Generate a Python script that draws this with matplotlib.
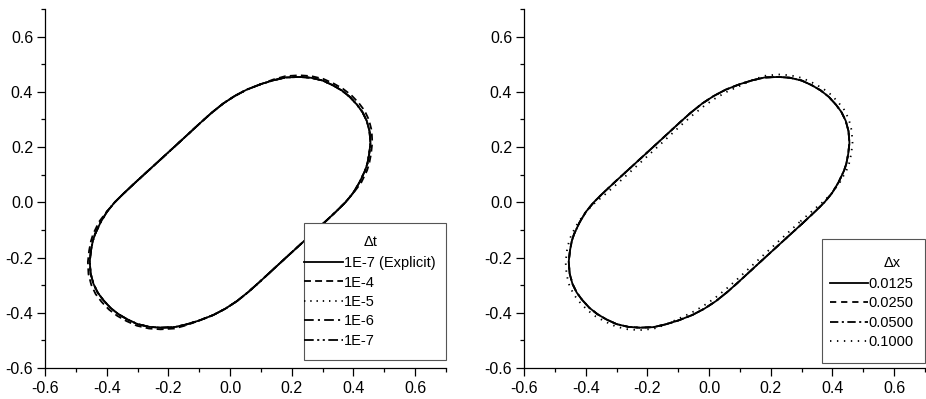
import matplotlib
matplotlib.use("Agg")
import matplotlib.pyplot as plt
from matplotlib.patches import Rectangle
from matplotlib.ticker import MultipleLocator

plt.rcParams['font.family'] = ['Liberation Sans', 'DejaVu Sans']
plt.rcParams['axes.unicode_minus'] = False
plt.rcParams['lines.scale_dashes'] = False

# converged interface shape, closed loop
ref_x = [0.302, 0.346, 0.374, 0.399, 0.420, 0.438, 0.445, 0.451, 0.455, 0.452, 0.443,
         0.429, 0.411, 0.388, 0.362, 0.333, 0.300, 0.262, 0.225, 0.180, 0.141, 0.100,
         0.054, 0.015, -0.022, -0.060, -0.097, -0.130, -0.162, -0.205, -0.250,
         -0.302, -0.346, -0.374, -0.399, -0.420, -0.438, -0.445, -0.451, -0.455, -0.452, -0.443,
         -0.429, -0.411, -0.388, -0.362, -0.333, -0.300, -0.262, -0.225, -0.180, -0.141, -0.100,
         -0.054, -0.015, 0.022, 0.060, 0.097, 0.130, 0.162, 0.205, 0.250, 0.302]
ref_y = [-0.077, -0.031, 0.000, 0.034, 0.073, 0.116, 0.140, 0.175, 0.215, 0.258, 0.295,
         0.327, 0.354, 0.382, 0.405, 0.424, 0.441, 0.451, 0.454, 0.452, 0.442, 0.428,
         0.408, 0.385, 0.358, 0.324, 0.287, 0.253, 0.220, 0.176, 0.130,
         0.077, 0.031, 0.000, -0.034, -0.073, -0.116, -0.140, -0.175, -0.215, -0.258, -0.295,
         -0.327, -0.354, -0.382, -0.405, -0.424, -0.441, -0.451, -0.454, -0.452, -0.442, -0.428,
         -0.408, -0.385, -0.358, -0.324, -0.287, -0.253, -0.220, -0.176, -0.130, -0.077]

# dt = 1E-4 (dashed), a touch wider at the rounded ends
dt4_x = [0.302, 0.346, 0.374, 0.400, 0.425, 0.444, 0.451, 0.457, 0.461, 0.459, 0.450,
         0.436, 0.417, 0.393, 0.366, 0.336, 0.302, 0.263, 0.225, 0.180, 0.141, 0.100,
         0.054, 0.015, -0.022, -0.060, -0.097, -0.130, -0.162, -0.205, -0.250,
         -0.302, -0.346, -0.374, -0.400, -0.425, -0.444, -0.451, -0.457, -0.461, -0.459, -0.450,
         -0.436, -0.417, -0.393, -0.366, -0.336, -0.302, -0.263, -0.225, -0.180, -0.141, -0.100,
         -0.054, -0.015, 0.022, 0.060, 0.097, 0.130, 0.162, 0.205, 0.250, 0.302]
dt4_y = [-0.077, -0.031, 0.000, 0.034, 0.071, 0.115, 0.140, 0.175, 0.216, 0.260, 0.299,
         0.332, 0.360, 0.388, 0.411, 0.430, 0.447, 0.457, 0.460, 0.457, 0.445, 0.428,
         0.408, 0.385, 0.358, 0.324, 0.287, 0.253, 0.220, 0.176, 0.130,
         0.077, 0.031, 0.000, -0.034, -0.071, -0.115, -0.140, -0.175, -0.216, -0.260, -0.299,
         -0.332, -0.360, -0.388, -0.411, -0.430, -0.447, -0.457, -0.460, -0.457, -0.445, -0.428,
         -0.408, -0.385, -0.358, -0.324, -0.287, -0.253, -0.220, -0.176, -0.130, -0.077]

# dx = 0.1000 (dotted), ends pushed out, flat sides pulled in
dx01_x = [0.296, 0.341, 0.372, 0.401, 0.425, 0.446, 0.454, 0.461, 0.465, 0.462, 0.453,
          0.438, 0.419, 0.395, 0.368, 0.337, 0.302, 0.263, 0.225, 0.180, 0.141, 0.102,
          0.059, 0.021, -0.015, -0.053, -0.090, -0.123, -0.155, -0.198, -0.243,
          -0.296, -0.341, -0.372, -0.401, -0.425, -0.446, -0.454, -0.461, -0.465, -0.462, -0.453,
          -0.438, -0.419, -0.395, -0.368, -0.337, -0.302, -0.263, -0.225, -0.180, -0.141, -0.102,
          -0.059, -0.021, 0.015, 0.053, 0.090, 0.123, 0.155, 0.198, 0.243, 0.296]
dx01_y = [-0.069, -0.025, 0.004, 0.037, 0.074, 0.117, 0.141, 0.176, 0.217, 0.261, 0.301,
          0.335, 0.362, 0.390, 0.413, 0.432, 0.450, 0.460, 0.463, 0.458, 0.443, 0.423,
          0.401, 0.377, 0.350, 0.316, 0.280, 0.246, 0.213, 0.169, 0.123,
          0.069, 0.025, -0.004, -0.037, -0.074, -0.117, -0.141, -0.176, -0.217, -0.261, -0.301,
          -0.335, -0.362, -0.390, -0.413, -0.432, -0.450, -0.460, -0.463, -0.458, -0.443, -0.423,
          -0.401, -0.377, -0.350, -0.316, -0.280, -0.246, -0.213, -0.169, -0.123, -0.069]

dt_labels = ['1E-7 (Explicit)', '1E-4', '1E-5', '1E-6', '1E-7']
dt_xs = [ref_x, dt4_x, ref_x, ref_x, ref_x]
dt_ys = [ref_y, dt4_y, ref_y, ref_y, ref_y]
dt_styles = ['-', (0, (5, 3)), (0, (1, 3.5)), (0, (7, 3, 1.5, 3)),
             (0, (7, 2.5, 1.5, 2.5, 1.5, 2.5))]

dx_labels = ['0.0125', '0.0250', '0.0500', '0.1000']
dx_xs = [ref_x, ref_x, ref_x, dx01_x]
dx_ys = [ref_y, ref_y, ref_y, dx01_y]
dx_styles = ['-', (0, (4.5, 3.5)), (0, (6, 2.5, 1.5, 2.5)), (0, (1, 4))]


def style_axes(ax):
    ax.set_xlim(-0.6, 0.7)
    ax.set_ylim(-0.6, 0.7)
    ax.set_xticks([-0.6, -0.4, -0.2, 0.0, 0.2, 0.4, 0.6])
    ax.set_yticks([-0.6, -0.4, -0.2, 0.0, 0.2, 0.4, 0.6])
    ax.xaxis.set_minor_locator(MultipleLocator(0.1))
    ax.yaxis.set_minor_locator(MultipleLocator(0.1))
    ax.xaxis.set_major_formatter('{x:.1f}')
    ax.yaxis.set_major_formatter('{x:.1f}')
    for s in ['top', 'right']:
        ax.spines[s].set_visible(False)
    for s in ['left', 'bottom']:
        ax.spines[s].set_linewidth(0.9)
    ax.tick_params(which='major', direction='out', length=5.5, width=0.9, labelsize=11.5)
    ax.tick_params(which='minor', direction='out', length=3, width=0.9)
    ax.tick_params(axis='x', which='major', pad=4)
    ax.tick_params(axis='y', which='major', pad=3)


def draw_legend(ax, title, box, title_xy, anchor, hlen):
    ax.add_patch(Rectangle((box[0], box[1]), box[2] - box[0], box[3] - box[1],
                           transform=ax.transAxes, facecolor='white', edgecolor='#555555',
                           lw=0.8, zorder=5, clip_on=False))
    ax.text(title_xy[0], title_xy[1], title, transform=ax.transAxes,
            ha='center', va='center', fontsize=10.5, zorder=6)
    leg = ax.legend(loc='center left', bbox_to_anchor=anchor, frameon=False,
                    borderpad=0, borderaxespad=0, handlelength=hlen, handletextpad=0.05,
                    labelspacing=0.37, fontsize=10.5)
    leg.set_zorder(7)


fig = plt.figure(figsize=(9.26, 3.99), dpi=100)
ax1 = fig.add_axes([45 / 926, 31 / 399, 401 / 926, 359 / 399])
ax2 = fig.add_axes([524 / 926, 31 / 399, 401 / 926, 359 / 399])

for xs, ys, ls, lab in zip(dt_xs, dt_ys, dt_styles, dt_labels):
    ax1.plot(xs, ys, color='black', lw=1.3, ls=ls, label=lab)
for xs, ys, ls, lab in zip(dx_xs, dx_ys, dx_styles, dx_labels):
    ax2.plot(xs, ys, color='black', lw=1.3, ls=ls, label=lab)

style_axes(ax1)
style_axes(ax2)

draw_legend(ax1, 'Δt', (0.646, 0.022, 1.0, 0.404), (0.813, 0.351), (0.646, 0.184), 2.67)
draw_legend(ax2, 'Δx', (0.743, 0.014, 1.0, 0.359), (0.918, 0.292), (0.763, 0.153), 2.6)

fig.savefig('out.png', dpi=100)
